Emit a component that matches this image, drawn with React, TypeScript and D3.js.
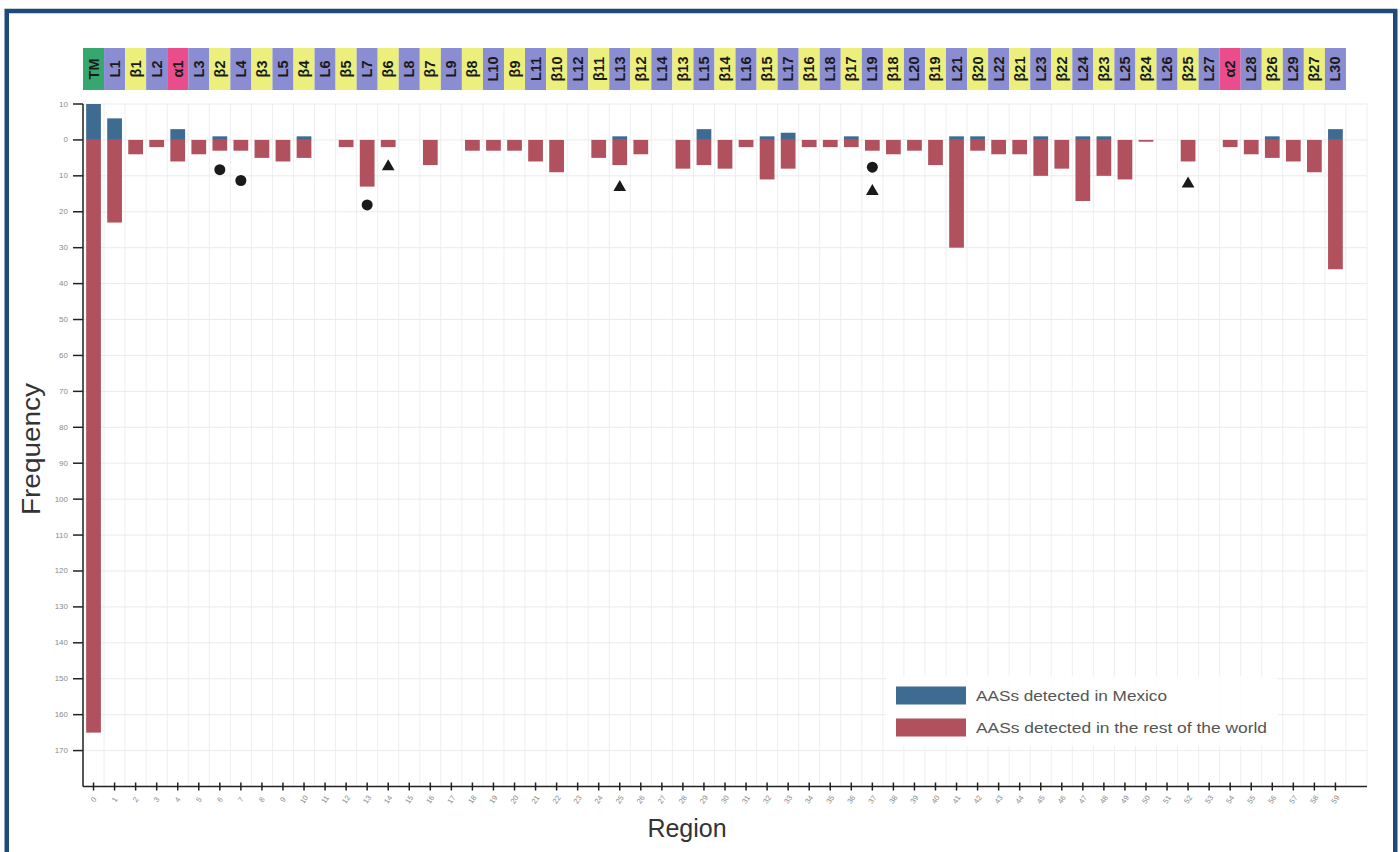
import React from 'react';
import * as d3 from 'd3';

const regions = [
  'TM', 'L1', 'β1', 'L2', 'α1', 'L3', 'β2', 'L4', 'β3', 'L5', 'β4', 'L6', 'β5', 'L7', 'β6', 'L8', 'β7', 'L9', 'β8', 'L10',
  'β9', 'L11', 'β10', 'L12', 'β11', 'L13', 'β12', 'L14', 'β13', 'L15', 'β14', 'L16', 'β15', 'L17', 'β16', 'L18', 'β17', 'L19', 'β18', 'L20',
  'β19', 'L21', 'β20', 'L22', 'β21', 'L23', 'β22', 'L24', 'β23', 'L25', 'β24', 'L26', 'β25', 'L27', 'α2', 'L28', 'β26', 'L29', 'β27', 'L30',
];

const mexico = [
  10, 6, 0, 0, 3, 0, 1, 0, 0, 0, 1, 0, 0, 0, 0, 0, 0, 0, 0, 0,
  0, 0, 0, 0, 0, 1, 0, 0, 0, 3, 0, 0, 1, 2, 0, 0, 1, 0, 0, 0,
  0, 1, 1, 0, 0, 1, 0, 1, 1, 0, 0, 0, 0, 0, 0, 0, 1, 0, 0, 3,
];

const restOfWorld = [
  165, 23, 4, 2, 6, 4, 3, 3, 5, 6, 5, 0, 2, 13, 2, 0, 7, 0, 3, 3,
  3, 6, 9, 0, 5, 7, 4, 0, 8, 7, 8, 2, 11, 8, 2, 2, 2, 3, 4, 3,
  7, 30, 3, 4, 4, 10, 8, 17, 10, 11, 0.5, 0, 6, 0, 2, 4, 5, 6, 9, 36,
];

const circleMarks = [
  { idx: 6, value: 8.3 },
  { idx: 7, value: 11.3 },
  { idx: 13, value: 18.1 },
  { idx: 37, value: 7.6 },
];

const triangleMarks = [
  { idx: 14, value: 7.4 },
  { idx: 25, value: 13.2 },
  { idx: 37, value: 14.3 },
  { idx: 52, value: 12.2 },
];

const yTicks = [10, 0, -10, -20, -30, -40, -50, -60, -70, -80, -90, -100, -110, -120, -130, -140, -150, -160, -170];

const legendItems = ['AASs detected in Mexico', 'AASs detected in the rest of the world'];
const legendTextLengths = [191, 291];

const BLUE = '#3e6b92';
const RED = '#b1515d';

function cellColor(label: string) {
  if (label === 'TM') return '#36a86f';
  if (label.startsWith('L')) return '#8b8dd2';
  if (label.startsWith('α')) return '#e94d8b';
  return '#edef7c';
}

export default function App() {
  const W = 1400;
  const H = 852;
  const x = d3.scaleLinear().domain([-0.5, 60.5]).range([83, 1367]);
  const y = d3.scaleLinear().domain([10, -180]).range([104, 786.5]);
  const step = x(1) - x(0);
  const barW = step * 0.7;
  const y0 = y(0);
  const font = 'Arial, "Liberation Sans", sans-serif';
  const tri = d3.symbol().type(d3.symbolTriangle).size(70)();

  return (
    <svg width={W} height={H} style={{ position: 'absolute', left: 0, top: 0, background: '#fff' }}>
      {/* vertical grid */}
      {d3.range(-1, 61).map((i) => (
        <line key={'vg' + i} x1={x(i + 0.5)} x2={x(i + 0.5)} y1={y(10)} y2={y(-180)} stroke="#eceef1" strokeWidth={1} />
      ))}
      {/* horizontal grid */}
      {yTicks.map((t) => (
        <line key={'hg' + t} x1={x(-0.5)} x2={x(60.5)} y1={y(t)} y2={y(t)} stroke="#ebebeb" strokeWidth={1} />
      ))}

      {/* header band */}
      {regions.map((r, i) => (
        <g key={'h' + i}>
          <rect x={x(i - 0.5)} y={48} width={step} height={42} fill={cellColor(r)} />
          <text
            transform={`translate(${x(i)},69) rotate(-90)`}
            textAnchor="middle"
            dominantBaseline="central"
            fontFamily={font}
            fontWeight="bold"
            fontSize={14.5}
            fill="#1a1a1a"
          >
            {r}
          </text>
        </g>
      ))}

      {/* bars */}
      {restOfWorld.map((v, i) =>
        v > 0 ? (
          <rect key={'r' + i} x={x(i) - barW / 2} y={y0} width={barW} height={y(-v) - y0} fill={RED} />
        ) : null
      )}
      {mexico.map((v, i) =>
        v > 0 ? (
          <rect key={'m' + i} x={x(i) - barW / 2} y={y(v)} width={barW} height={y0 - y(v)} fill={BLUE} />
        ) : null
      )}

      {/* markers */}
      {circleMarks.map((m, k) => (
        <circle key={'c' + k} cx={x(m.idx)} cy={y(-m.value)} r={5.5} fill="#1a1a1a" />
      ))}
      {triangleMarks.map((m, k) => (
        <path key={'t' + k} d={tri || ''} transform={`translate(${x(m.idx)},${y(-m.value)})`} fill="#1a1a1a" />
      ))}

      {/* y axis */}
      <line x1={83} x2={83} y1={y(10)} y2={y(-180)} stroke="#222" strokeWidth={1.5} />
      {yTicks.map((t) => (
        <g key={'yt' + t}>
          <line x1={73} x2={83} y1={y(t)} y2={y(t)} stroke="#222" strokeWidth={1.5} />
          <text x={68} y={y(t)} textAnchor="end" dominantBaseline="central" fontFamily={font} fontSize={8} fill="#8a8a8a">
            {Math.abs(t)}
          </text>
        </g>
      ))}

      {/* x axis */}
      <line x1={x(-0.5)} x2={x(60.5)} y1={y(-180)} y2={y(-180)} stroke="#222" strokeWidth={1.5} />
      {regions.map((_, i) => (
        <g key={'xt' + i}>
          <line x1={x(i)} x2={x(i)} y1={y(-180) - 4} y2={y(-180) + 4} stroke="#222" strokeWidth={1.5} />
          <text
            transform={`translate(${x(i)},${y(-180) + 13}) rotate(-55)`}
            textAnchor="middle"
            dominantBaseline="central"
            fontFamily={font}
            fontSize={7.5}
            fill="#8a8a8a"
          >
            {i}
          </text>
        </g>
      ))}

      {/* axis titles */}
      <text
        transform="translate(40,449) rotate(-90)"
        textAnchor="middle"
        fontFamily={font}
        fontSize={25}
        fill="#333"
        textLength={132}
        lengthAdjust="spacingAndGlyphs"
      >
        Frequency
      </text>
      <text x={687} y={837} textAnchor="middle" fontFamily={font} fontSize={25} fill="#333">
        Region
      </text>

      {/* legend */}
      <rect x={886} y={676} width={392} height={70} fill="#fff" opacity={0.85} />
      {legendItems.map((l, k) => (
        <g key={'lg' + k}>
          <rect x={896} y={686.5 + k * 32} width={70} height={18} fill={k === 0 ? BLUE : RED} />
          <text
            x={976}
            y={695.5 + k * 32}
            dominantBaseline="central"
            fontFamily={font}
            fontSize={15}
            fill="#555"
            textLength={legendTextLengths[k]}
            lengthAdjust="spacingAndGlyphs"
          >
            {l}
          </text>
        </g>
      ))}

      {/* frame */}
      <rect x={6.75} y={11} width={1388.5} height={900} fill="none" stroke="#1e4a7b" strokeWidth={4.5} />
    </svg>
  );
}
